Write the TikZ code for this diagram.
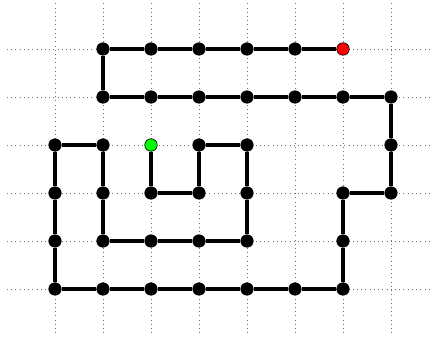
\documentclass[tikz,border=0pt]{standalone}
\usetikzlibrary{positioning}
\definecolor{walkStart}{HTML}{00FF00}
\definecolor{walkEnd}{HTML}{FF0000}
\definecolor{latticeGray}{HTML}{6E6E6E}

\begin{document}
\begin{tikzpicture}[x=1cm, y=1cm,
    site/.style={circle, fill=black, draw=black, line width=0.4pt, inner sep=0pt, minimum size=0.26cm},
    bond/.style={line width=2.7pt}]
        \useasboundingbox (-0.146,-1.042) rectangle (8.854,6.021);
        % lattice
        \foreach \x in {1,...,8} \draw[dotted, line width=0.5pt, latticeGray] (\x,-0.92) -- (\x,6.1);
        \foreach \y in {0,...,5} \draw[dotted, line width=0.5pt, latticeGray] (0,\y) -- (9,\y);
        % walk sites
        \node[site, fill=walkStart] (s1) at (3,3) {};
        \foreach [count=\i from 2] \p in {(3,2),(4,2),(4,3),(5,3),(5,2),(5,1),(4,1),(3,1),(2,1),(2,2),(2,3),(1,3),(1,2),(1,1),(1,0),(2,0),(3,0),(4,0),(5,0),(6,0),(7,0),(7,1),(7,2),(8,2),(8,3),(8,4),(7,4),(6,4),(5,4),(4,4),(3,4),(2,4),(2,5),(3,5),(4,5),(5,5),(6,5)}
            \node[site] (s\i) at \p {};
        \node[site, fill=walkEnd] (s39) at (7,5) {};
        % bonds
        \foreach \i [evaluate=\i as \j using {int(\i+1)}] in {1,...,38}
            \draw[bond] (s\i) -- (s\j);
      \end{tikzpicture}
\end{document}
